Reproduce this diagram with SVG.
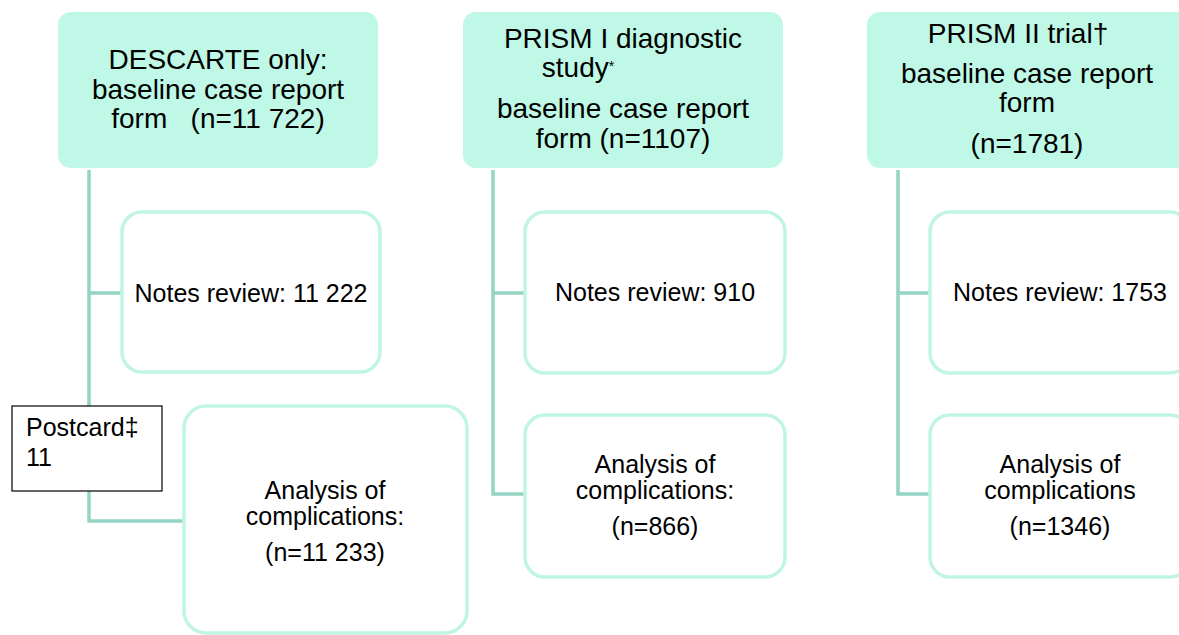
<svg xmlns="http://www.w3.org/2000/svg" width="1179" height="635" viewBox="0 0 1179 635">
  <style>
    .hdr { fill: #bff8e6; stroke: none; }
    .sub { fill: #ffffff; stroke: #c0f5e3; stroke-width: 3.5; }
    .plain { fill: #ffffff; stroke: #000000; stroke-width: 1.2; }
    .conn { fill: none; stroke: #93d4c4; stroke-width: 3.5; }
    text { font-family: "Liberation Sans", Arial, sans-serif; fill: #000000; }
    .h { font-size: 28px; text-anchor: middle; }
    .b { font-size: 25px; text-anchor: middle; }
    .l { font-size: 25px; }
  </style>
  <rect width="1179" height="635" fill="#ffffff"/>

  <!-- connectors -->
  <g id="connectors">
    <path class="conn" d="M89 170 V521 H183 M89 293 H122"/>
    <path class="conn" d="M493 170 V494 H525 M493 293 H525"/>
    <path class="conn" d="M898 170 V494 H930 M898 293 H930"/>
  </g>

  <!-- column 1 -->
  <g id="descarte">
    <rect class="hdr" x="58" y="12" width="320" height="156" rx="13"/>
    <text class="h" x="218" y="69">DESCARTE only:</text>
    <text class="h" x="218" y="99">baseline case report</text>
    <text class="h" x="218" y="128" xml:space="preserve">form   (n=11 722)</text>
  </g>
  <g id="notes1">
    <rect class="sub" x="122" y="212" width="258" height="160" rx="20"/>
    <text class="b" x="251" y="302">Notes review: 11 222</text>
  </g>
  <g id="postcard">
    <rect class="plain" x="12" y="406" width="150" height="85"/>
    <text class="l" x="26" y="436">Postcard‡</text>
    <text class="l" x="26" y="466">11</text>
  </g>
  <g id="analysis1">
    <rect class="sub" x="184" y="406" width="283" height="227" rx="22"/>
    <text class="b" x="325" y="499">Analysis of</text>
    <text class="b" x="325" y="525">complications:</text>
    <text class="b" x="325" y="561">(n=11 233)</text>
  </g>

  <!-- column 2 -->
  <g id="prism1">
    <rect class="hdr" x="463" y="12" width="320" height="156" rx="13"/>
    <text class="h" x="623" y="48">PRISM I diagnostic</text>
    <text class="h" x="578" y="77" text-anchor="start">study<tspan font-size="14" dy="-6">*</tspan></text>
    <text class="h" x="623" y="118">baseline case report</text>
    <text class="h" x="623" y="148">form (n=1107)</text>
  </g>
  <g id="notes2">
    <rect class="sub" x="525" y="212" width="260" height="161" rx="20"/>
    <text class="b" x="655" y="301">Notes review: 910</text>
  </g>
  <g id="analysis2">
    <rect class="sub" x="525" y="415" width="260" height="162" rx="20"/>
    <text class="b" x="655" y="473">Analysis of</text>
    <text class="b" x="655" y="499">complications:</text>
    <text class="b" x="655" y="535">(n=866)</text>
  </g>

  <!-- column 3 -->
  <g id="prism2">
    <rect class="hdr" x="867" y="12" width="322" height="156" rx="13"/>
    <text class="h" x="1018" y="43">PRISM II trial†</text>
    <text class="h" x="1027" y="83">baseline case report</text>
    <text class="h" x="1027" y="112">form</text>
    <text class="h" x="1027" y="153">(n=1781)</text>
  </g>
  <g id="notes3">
    <rect class="sub" x="930" y="212" width="260" height="161" rx="20"/>
    <text class="b" x="1060" y="301">Notes review: 1753</text>
  </g>
  <g id="analysis3">
    <rect class="sub" x="930" y="415" width="260" height="162" rx="20"/>
    <text class="b" x="1060" y="473">Analysis of</text>
    <text class="b" x="1060" y="499">complications</text>
    <text class="b" x="1060" y="535">(n=1346)</text>
  </g>
</svg>
